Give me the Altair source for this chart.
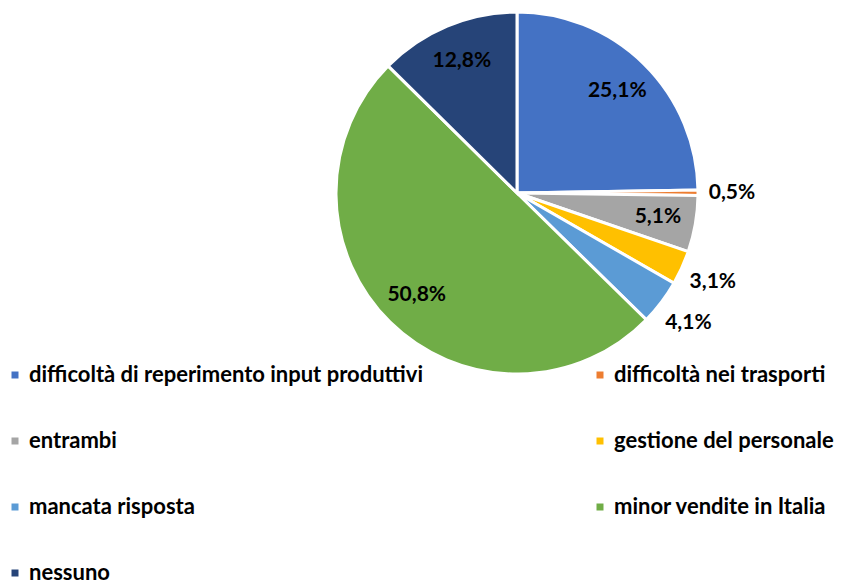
import altair as alt
import pandas as pd

categories = [
    "difficoltà di reperimento input produttivi",
    "difficoltà nei trasporti",
    "entrambi",
    "gestione del personale",
    "mancata risposta",
    "minor vendite in Italia",
    "nessuno",
]
values = [25.1, 0.5, 5.1, 3.1, 4.1, 50.8, 12.8]
labels = ["25,1%", "0,5%", "5,1%", "3,1%", "4,1%", "50,8%", "12,8%"]
colors = ["#4472C4", "#ED7D31", "#A5A5A5", "#FFC000", "#5B9BD5", "#70AD47", "#264478"]

df = pd.DataFrame({
    "cat": categories,
    "value": values,
    "label": labels,
    "order": list(range(len(categories))),
})

FONT = "Lato"
CX, CY, R = 509, 185, 181

pie = alt.Chart(df).mark_arc(outerRadius=R, stroke="white", strokeWidth=3).encode(
    theta=alt.Theta("value:Q", stack=True),
    order=alt.Order("order:Q"),
    x=alt.value(CX),
    y=alt.value(CY),
    color=alt.Color(
        "cat:N",
        scale=alt.Scale(domain=categories, range=colors),
        sort=categories,
        legend=alt.Legend(
            title=None,
            orient="none",
            legendX=-4,
            legendY=356,
            columns=2,
            direction="horizontal",
            symbolType="square",
            symbolSize=49,
            symbolStrokeWidth=0,
            labelFont=FONT,
            labelFontSize=22,
            labelFontWeight="bold",
            labelColor="#000000",
            labelLimit=600,
            labelOffset=3,
            rowPadding=44,
            columnPadding=166,
            padding=0,
        ),
    ),
)

text = alt.Chart(df).transform_joinaggregate(
    total="sum(value)"
).transform_window(
    cum="sum(value)", sort=[alt.SortField("order")], frame=[None, 0]
).transform_calculate(
    mid="(datum.cum - datum.value / 2) / datum.total * 2 * PI",
    r="datum.value < 5 ? 215 : 143",
).mark_text(
    font=FONT, fontSize=21, fontWeight="bold", color="#000000"
).encode(
    theta=alt.Theta("mid:Q", scale=None, stack=None),
    radius=alt.Radius("r:Q", scale=None),
    x=alt.value(CX),
    y=alt.value(CY),
    text="label:N",
)

chart = (pie + text).properties(
    width=830, height=600, autosize="none", padding=0
).configure_view(stroke=None)

chart.save("out.html", embed_options={"renderer": "svg", "actions": False})
